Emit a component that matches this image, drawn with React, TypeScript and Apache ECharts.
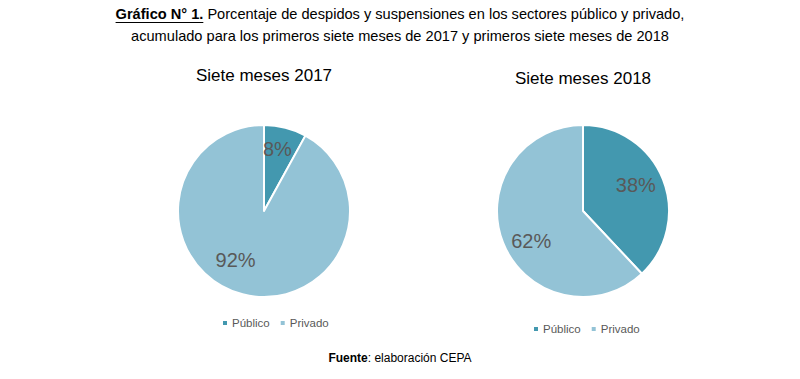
import React, { useEffect, useRef } from "react";
import * as echarts from "echarts";

const categories = ["Público", "Privado"];
const values2017 = [8, 92];
const values2018 = [38, 62];
const pieTitles = ["Siete meses 2017", "Siete meses 2018"];
const titleBold = "Gráfico N° 1.";
const titleRest1 = " Porcentaje de despidos y suspensiones en los sectores público y privado,";
const titleLine2 = "acumulado para los primeros siete meses de 2017 y primeros siete meses de 2018";
const sourceBold = "Fuente";
const sourceRest = ": elaboración CEPA";

const colors = ["#4398AF", "#93C3D6"];
const FONT = "Liberation Sans";

function measure(text: string, font: string): number {
  const c = document.createElement("canvas").getContext("2d");
  if (!c) return text.length * 7;
  c.font = font;
  return c.measureText(text).width;
}

export default function App() {
  const ref = useRef<HTMLDivElement>(null);
  useEffect(() => {
    if (!ref.current) return;
    const chart = echarts.init(ref.current, undefined, { renderer: "svg" });
    const tSize = 14.6;
    const wBold = measure(titleBold, `bold ${tSize}px "${FONT}"`);
    const wRest = measure(titleRest1, `${tSize}px "${FONT}"`);
    const total = wBold + wRest;
    const x0 = 400 - total / 2;

    const labelOffsets2017 = [[2, -17], [-17, 4]];
    const labelOffsets2018 = [[10, -9], [-9, 13]];

    const mkData = (vals: number[], offs: number[][]) =>
      categories.map((name, i) => ({
        name,
        value: vals[i],
        label: { offset: offs[i] },
      }));

    const pieCommon = {
      type: "pie",
      radius: 86,
      startAngle: 90,
      clockwise: true,
      labelLine: { show: false },
      label: {
        show: true,
        position: "inside",
        formatter: "{c}%",
        fontSize: 20,
        color: "#595959",
        fontFamily: FONT,
      },
      itemStyle: { borderColor: "#ffffff", borderWidth: 2 },
      emphasis: { disabled: true },
      silent: true,
    };

    const legendCommon = {
      data: categories,
      icon: "rect",
      itemWidth: 6,
      itemHeight: 6,
      itemGap: 9,
      padding: 0,
      textStyle: { fontFamily: FONT, fontSize: 11.5, color: "#595959", padding: [0, 0, 0, -1] },
      selectedMode: false,
    };

    chart.setOption({
      animation: false,
      color: colors,
      legend: [
        { ...legendCommon, left: 221, top: 317 },
        { ...legendCommon, left: 532, top: 323 },
      ],
      series: [
        { ...pieCommon, name: pieTitles[0], center: [264, 211], data: mkData(values2017, labelOffsets2017) },
        { ...pieCommon, name: pieTitles[1], center: [583, 211], data: mkData(values2018, labelOffsets2018) },
      ],
      graphic: [
        {
          type: "text",
          x: 264,
          y: 75,
          style: {
            text: pieTitles[0],
            align: "center",
            verticalAlign: "middle",
            fontFamily: FONT,
            fontSize: 17,
            fill: "#000",
          },
        },
        {
          type: "text",
          x: 583,
          y: 78,
          style: {
            text: pieTitles[1],
            align: "center",
            verticalAlign: "middle",
            fontFamily: FONT,
            fontSize: 17,
            fill: "#000",
          },
        },
        {
          type: "text",
          x: x0,
          y: 14,
          style: {
            text: `{b|${titleBold}}{n|${titleRest1}}`,
            verticalAlign: "middle",
            rich: {
              b: { fontFamily: FONT, fontSize: tSize, fontWeight: "bold", fill: "#000" },
              n: { fontFamily: FONT, fontSize: tSize, fill: "#000" },
            },
          },
        },
        {
          type: "line",
          shape: { x1: x0, y1: 22.5, x2: x0 + wBold, y2: 22.5 },
          style: { stroke: "#000", lineWidth: 1 },
        },
        {
          type: "text",
          x: 400,
          y: 36,
          style: {
            text: titleLine2,
            align: "center",
            verticalAlign: "middle",
            fontFamily: FONT,
            fontSize: tSize,
            fill: "#000",
          },
        },
        {
          type: "text",
          x: 400,
          y: 358,
          style: {
            text: `{b|${sourceBold}}{n|${sourceRest}}`,
            align: "center",
            verticalAlign: "middle",
            rich: {
              b: { fontFamily: FONT, fontSize: 12, fontWeight: "bold", fill: "#000" },
              n: { fontFamily: FONT, fontSize: 12, fill: "#000" },
            },
          },
        },
      ],
    });
    return () => chart.dispose();
  }, []);
  return (
    <div
      ref={ref}
      style={{ position: "fixed", left: 0, top: 0, width: 800, height: 379, background: "#fff" }}
    />
  );
}
